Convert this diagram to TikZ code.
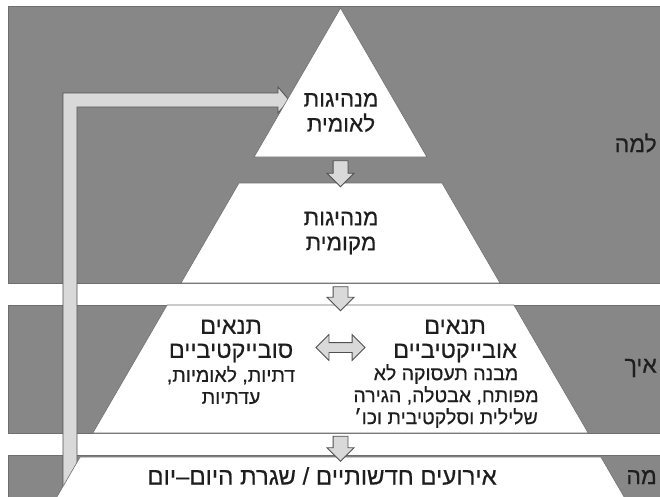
\documentclass[tikz,border=0pt]{standalone}
\usepackage{fontspec}
\usetikzlibrary{shapes.arrows}
\newfontfamily\hebfont[Script=Hebrew,FakeBold=0.4]{Liberation Sans}
\TeXXeTstate=1
\definecolor{BandGray}{HTML}{878787}
\definecolor{EdgeGray}{HTML}{6E6E6E}
\definecolor{ArrowFill}{HTML}{D9D9D9}
\definecolor{ArrowLine}{HTML}{505050}
\definecolor{TextBlack}{HTML}{1E1E1E}
\newcommand{\heb}[1]{\beginR #1\endR}

\begin{document}
\begin{tikzpicture}[x=1pt,y=-1pt,
		band/.style={fill=BandGray,draw=EdgeGray,line width=0.6pt},
		layer/.style={fill=white,draw=EdgeGray,line width=0.6pt},
		downarrow/.style={single arrow,draw=ArrowLine,fill=ArrowFill,line width=0.8pt,rotate=-90,
			inner xsep=0pt,inner ysep=7pt,single arrow head extend=6pt},
		twoway/.style={double arrow,draw=ArrowLine,fill=ArrowFill,line width=0.8pt,
			inner xsep=0pt,inner ysep=4.5pt,double arrow head extend=8pt,minimum height=49pt},
		title/.style={font=\hebfont\fontsize{22.5}{25}\selectfont,align=center,text=TextBlack,inner sep=0pt},
		head/.style={font=\hebfont\fontsize{23.5}{24}\selectfont,align=center,text=TextBlack,inner sep=0pt},
		note/.style={font=\hebfont\fontsize{19.5}{22}\selectfont,align=center,text=TextBlack,inner sep=0pt},
		rowlabel/.style={font=\hebfont\fontsize{23}{24}\selectfont,anchor=east,text=TextBlack,inner sep=0pt}
	]
	\useasboundingbox (0,0) rectangle (660,496);
	% background bands
	\fill[white] (0,0) rectangle (660,496);
	\draw[band] (8,6) rectangle (664,283);
	\draw[band] (8,305) rectangle (664,433);
	\draw[band] (8,455) rectangle (664,500);
	% feedback arrow from the bottom back to the top
	\draw[fill=ArrowFill,draw=ArrowLine,line width=0.8pt]
		(63,500) -- (63,93) -- (278,93) -- (278,87) -- (289,100) -- (278,113)
		-- (278,107) -- (77,107) -- (77,500);
	% pyramid layers
	\draw[layer] (340.5,8) -- (426.9,157) -- (254.1,157) -- cycle;
	\draw[layer] (239,183) -- (442,183) -- (500,283) -- (181,283) -- cycle;
	\draw[layer] (167.1,305) -- (513.9,305) -- (588.2,433) -- (92.8,433) -- cycle;
	\draw[layer] (80.1,457) -- (600.9,457) -- (625.9,500) -- (55.1,500) -- cycle;
	% arrows between layers
	\node[downarrow,minimum height=26pt] (arrNat) at (340.5,170) {};
	\node[downarrow,minimum height=24pt] (arrLoc) at (340.5,295) {};
	\node[downarrow,minimum height=25pt] (arrCond) at (340.5,445) {};
	\node[twoway] (arrBoth) at (340.5,347.5) {};
	% texts
	\node[title] (natLead) at (341,112.5) {\heb{מנהיגות}\\\heb{לאומית}};
	\node[title] (locLead) at (341,233) {\heb{מנהיגות}\\\heb{מקומית}};
	\node[head] (subjHead) at (231,341) {\heb{תנאים}\\\heb{סובייקטיביים}};
	\node[note] (subjNote) at (231,385) {\heb{דתיות, לאומיות,}\\\heb{עדתיות}};
	\node[head] (objHead) at (455,341) {\heb{תנאים}\\\heb{אובייקטיביים}};
	\node[note] (objNote) at (446,396) {\heb{מבנה תעסוקה לא}\\\heb{מפותח, אבטלה, הגירה}\\\heb{שלילית וסלקטיבית וכו׳}};
	\node[title,font=\hebfont\fontsize{24}{25}\selectfont] (events) at (322,476) {\heb{אירועים חדשותיים / שגרת היום–יום}};
	\node[rowlabel] (why) at (657,143) {\heb{למה}};
	\node[rowlabel] (how) at (657,368) {\heb{איך}};
	\node[rowlabel] (what) at (657,477) {\heb{מה}};
\end{tikzpicture}
\end{document}
